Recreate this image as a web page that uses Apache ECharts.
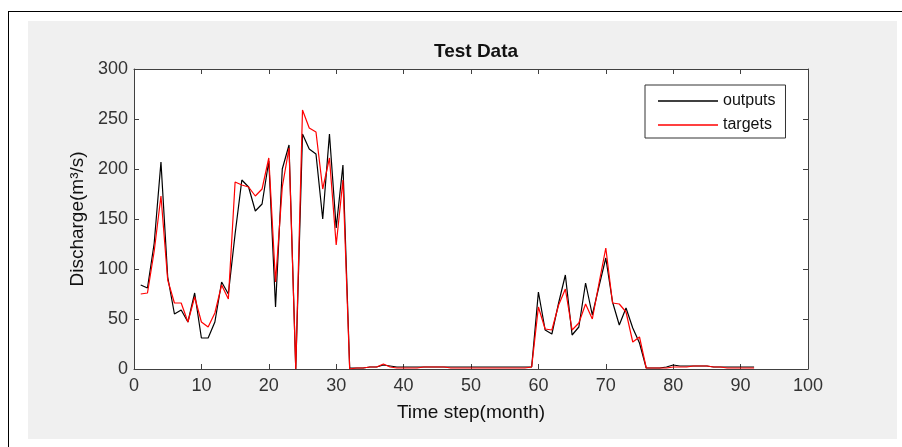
<!DOCTYPE html>
<html>
<head>
<meta charset="utf-8">
<title>Test Data</title>
<script src="https://cdn.jsdelivr.net/npm/echarts@6/dist/echarts.min.js"></script>
<style>
  body { margin: 0; background: #fff; }
  #frame { position: absolute; left: 8px; top: 11px; width: 894px; height: 436px;
           border-left: 1px solid #000; border-top: 1px solid #000; }
  #panel { position: absolute; left: 28px; top: 21px; width: 869px; height: 418px; background: #f0f0f0; }
  #chart { position: absolute; left: 0; top: 0; width: 902px; height: 447px; }
</style>
</head>
<body>
<div id="frame"></div>
<div id="panel"></div>
<div id="chart"></div>
<script>
  // time step (month) index
  const months = Array.from({length: 92}, (_, i) => i + 1)

  // network outputs
  const outputs = [
    84, 81, 126, 207, 92, 55, 59, 47, 76, 31,
    31, 47, 87, 75, 135, 189, 182, 158, 165, 208,
    62, 200, 224, 0, 235, 220, 215, 150, 235, 141,
    204, 1, 1, 1, 2, 2, 4, 3, 2, 2,
    2, 2, 2, 2, 2, 2, 2, 2, 2, 2,
    2, 2, 2, 2, 2, 2, 2, 2, 2, 77,
    39, 35, 66, 94, 34, 42, 86, 54, 83, 111,
    67, 44, 61, 41, 26, 1, 1, 1, 2, 4,
    3, 3, 3, 3, 3, 2, 2, 2, 2, 2,
    2, 2
  ]

  // observed targets
  const targets = [
    75, 76, 118, 173, 89, 66, 66, 47, 72, 47,
    42, 56, 84, 70, 187, 184, 182, 173, 180, 211,
    87, 182, 221, 0, 259, 241, 237, 180, 211, 124,
    189, 0, 1, 1, 2, 2, 5, 2, 1, 1,
    1, 1, 2, 2, 2, 2, 1, 1, 1, 1,
    1, 1, 1, 1, 1, 1, 1, 1, 2, 62,
    40, 39, 64, 80, 39, 46, 65, 50, 86, 121,
    66, 65, 57, 27, 32, 1, 1, 1, 1, 2,
    2, 2, 3, 3, 3, 2, 2, 1, 1, 1,
    1, 1
  ]

  const xTicks = [0, 10, 20, 30, 40, 50, 60, 70, 80, 90, 100]
  const yTicks = [0, 50, 100, 150, 200, 250, 300]

  const font = 'Liberation Sans, Arial, sans-serif'
  const axisColor = '#404040'

  function axisBase(extra) {
    return Object.assign({
      type: 'value',
      axisLine: { show: true, onZero: false, lineStyle: { color: axisColor, width: 1 } },
      axisTick: { show: true, inside: true, length: 5, lineStyle: { color: axisColor } },
      splitLine: { show: false },
      axisLabel: { color: '#333', fontFamily: font, fontSize: 18 }
    }, extra)
  }

  let chart = echarts.init(document.getElementById('chart'))
  chart.setOption({
    backgroundColor: 'transparent',
    animation: false,
    title: {
      text: 'Test Data',
      left: 471,
      textAlign: 'center',
      top: 37,
      textStyle: { fontFamily: font, fontSize: 19, fontWeight: 'bold', color: '#111' }
    },
    grid: { left: 134, top: 69, right: 94, bottom: 78, show: true, backgroundColor: '#fff', borderWidth: 0 },
    legend: {
      data: ['outputs', 'targets'],
      orient: 'vertical',
      left: 645,
      top: 85,
      icon: 'rect',
      itemWidth: 60,
      itemHeight: 1.3,
      itemGap: 8,
      padding: [8, 10, 5, 13],
      backgroundColor: '#fff',
      borderColor: '#333',
      borderWidth: 1,
      borderRadius: 0,
      textStyle: { fontFamily: font, fontSize: 16, lineHeight: 14, color: '#111' }
    },
    xAxis: [
      axisBase({
        min: xTicks[0], max: xTicks[xTicks.length - 1], interval: 10,
        name: 'Time step(month)', nameLocation: 'middle', nameGap: 34,
        nameTextStyle: { fontFamily: font, fontSize: 19, color: '#111' },
        axisLabel: { color: '#333', fontFamily: font, fontSize: 18, margin: 8 }
      }),
      axisBase({ position: 'top', min: 0, max: 100, interval: 10, axisLabel: { show: false } })
    ],
    yAxis: [
      axisBase({
        min: yTicks[0], max: yTicks[yTicks.length - 1], interval: 50,
        name: 'Discharge(m³/s)', nameLocation: 'middle', nameGap: 46,
        nameTextStyle: { fontFamily: font, fontSize: 19, color: '#111' },
        axisLabel: { color: '#333', fontFamily: font, fontSize: 18, margin: 6 }
      }),
      axisBase({ position: 'right', min: 0, max: 300, interval: 50, axisLabel: { show: false } })
    ],
    series: [
      {
        name: 'outputs',
        type: 'line',
        symbol: 'none',
        data: months.map((m, i) => [m, outputs[i]]),
        lineStyle: { color: '#000', width: 1.2 },
        itemStyle: { color: '#000' },
        z: 2
      },
      {
        name: 'targets',
        type: 'line',
        symbol: 'none',
        data: months.map((m, i) => [m, targets[i]]),
        lineStyle: { color: '#ff0000', width: 1.2 },
        itemStyle: { color: '#ff0000' },
        z: 3
      }
    ]
  })
</script>
</body>
</html>
